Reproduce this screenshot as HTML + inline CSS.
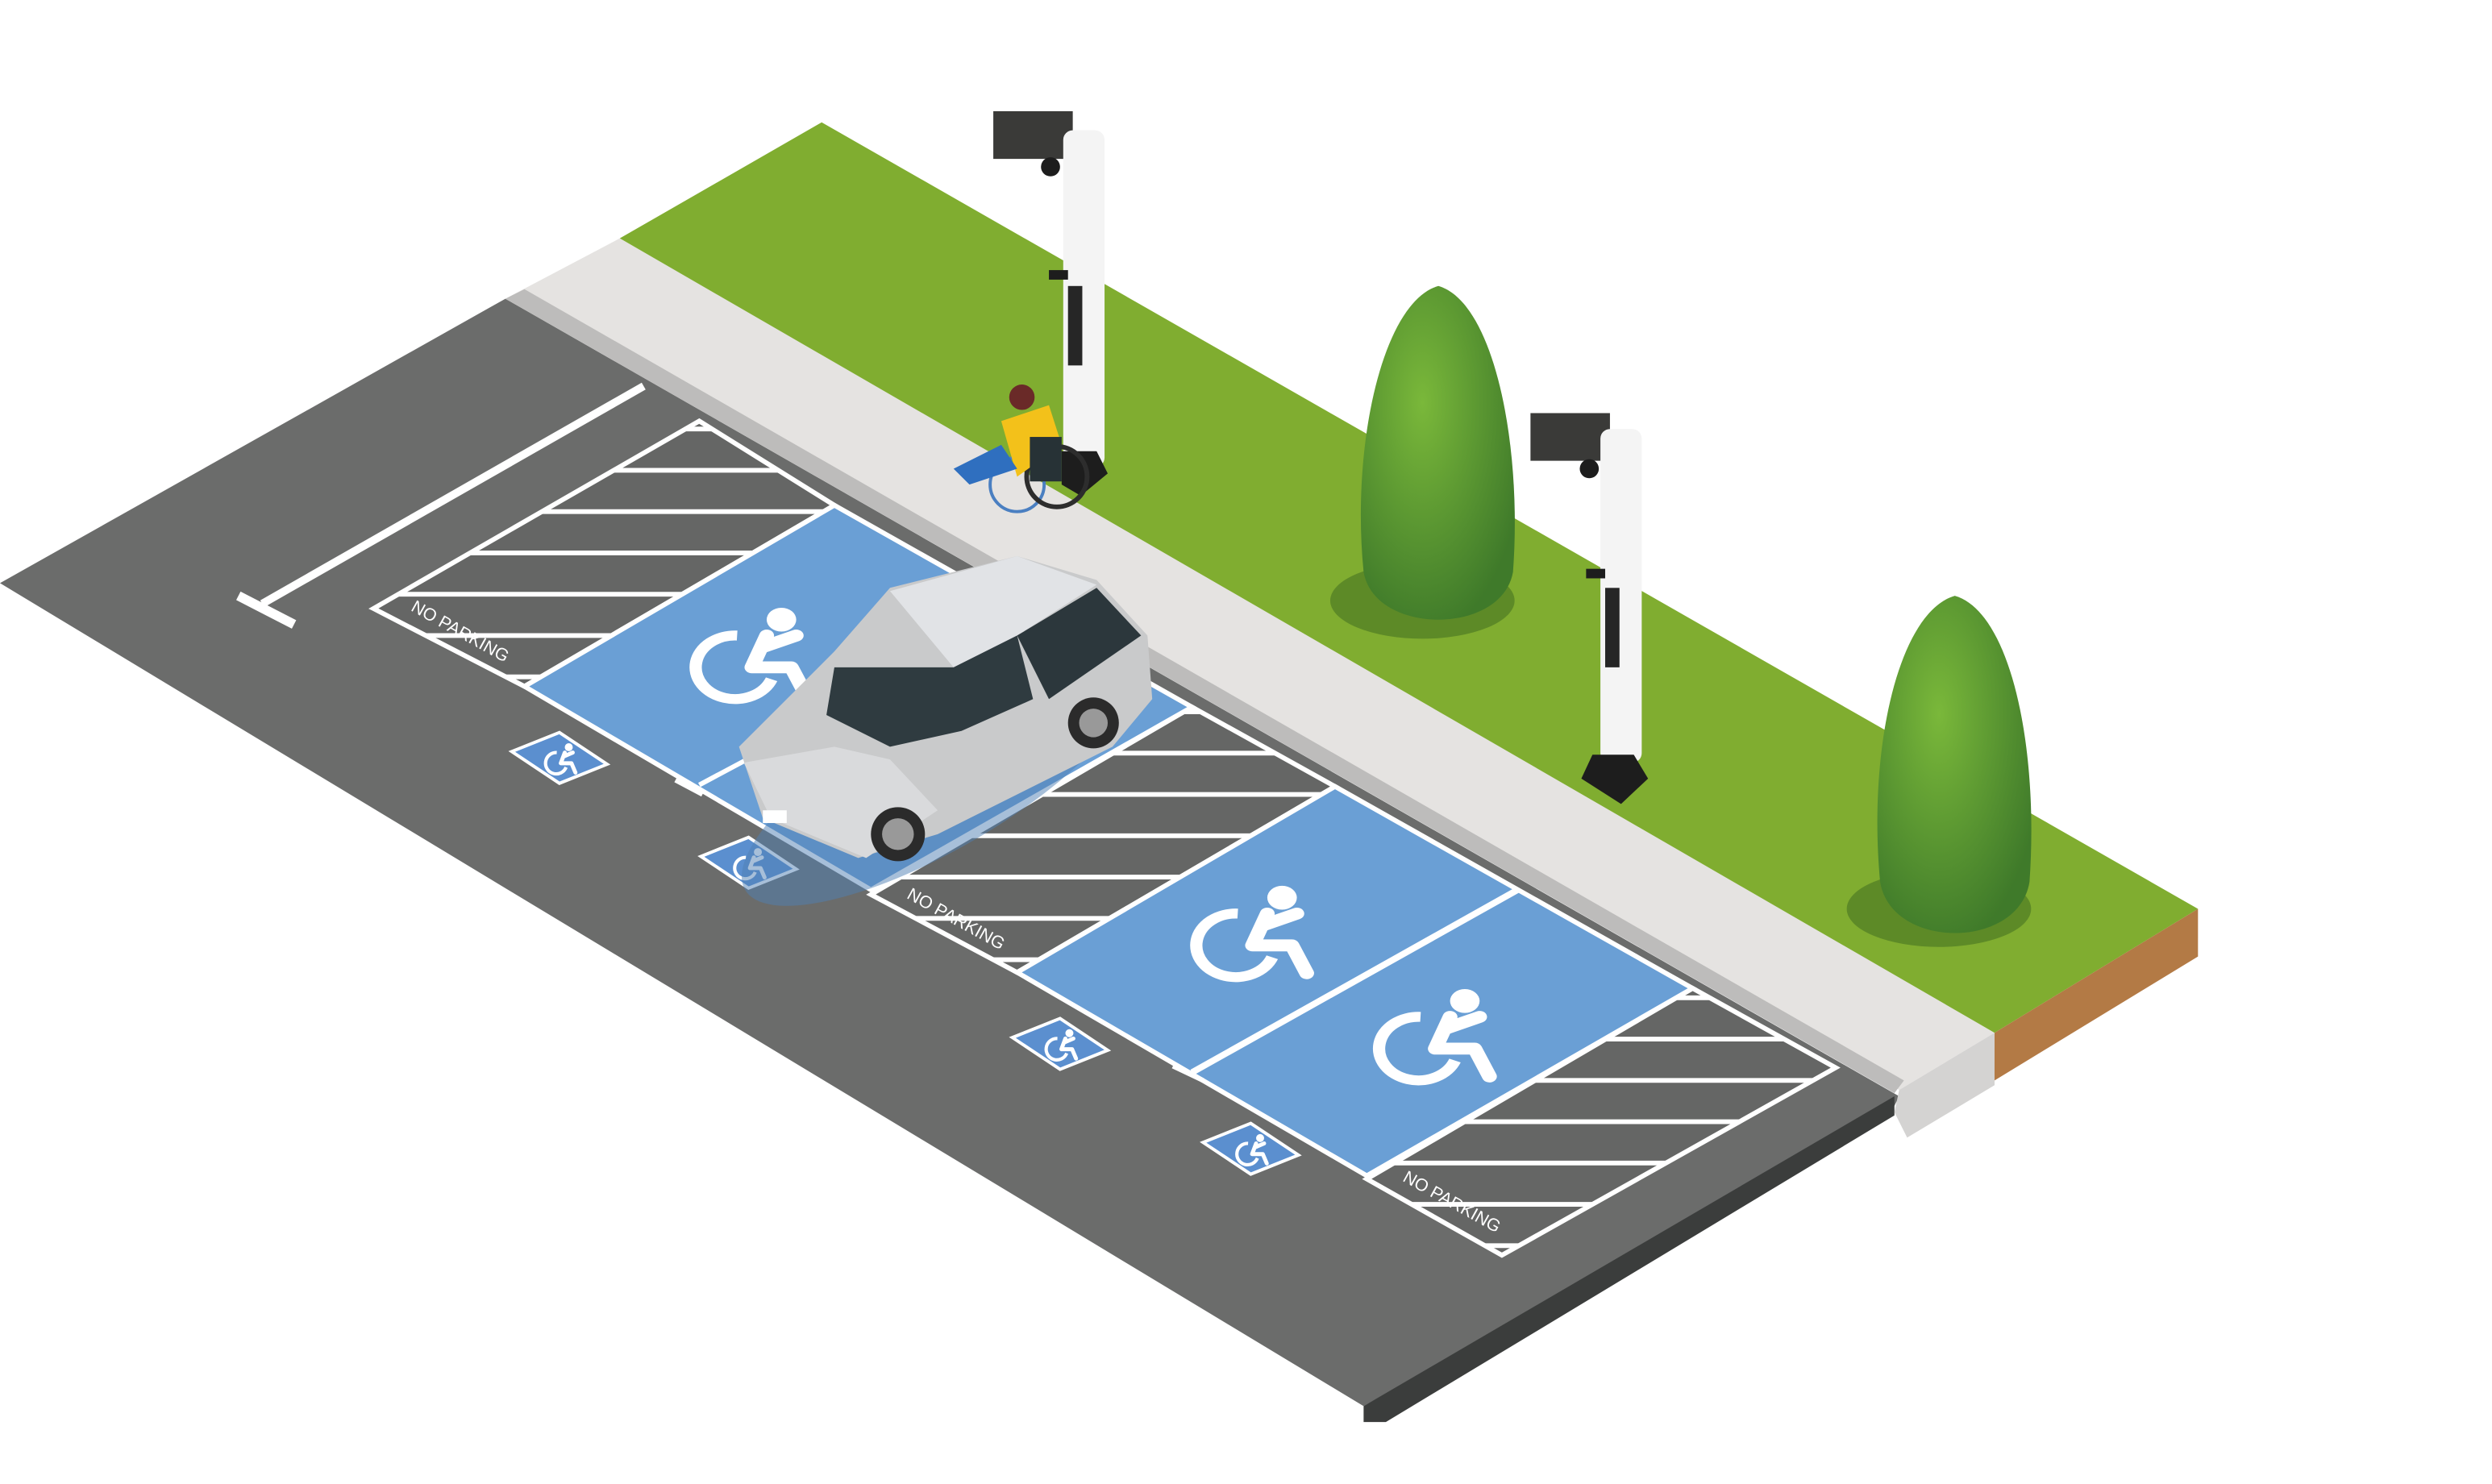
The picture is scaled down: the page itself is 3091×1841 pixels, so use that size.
<!DOCTYPE html>
<html><head><meta charset="utf-8"><style>
html,body{margin:0;padding:0;background:#fff;}
svg{display:block;}
text{font-family:"Liberation Sans",sans-serif;}
</style></head><body>
<svg width="3091" height="1841" viewBox="0 0 1568 934" preserveAspectRatio="none" xmlns="http://www.w3.org/2000/svg">
<defs>
<g id="wc">
 <circle cx="14" cy="-16" r="6" fill="#fff"/>
 <path d="M-4,-8 A16,16 0 1 0 10,14" fill="none" stroke="#fff" stroke-width="5"/>
 <path d="M8,-8 L2,8 L18,8 L24,22 M6,-2 L20,-8" fill="none" stroke="#fff" stroke-width="6" stroke-linecap="round" stroke-linejoin="round"/>
</g>
<g id="sign">
 <polygon points="-30,-4 0,-16 30,4 0,16" fill="#5b8fcf" stroke="#fff" stroke-width="2"/>
 <use href="#wc" transform="scale(0.42)"/>
</g>
<clipPath id="h1"><polygon points="235,383 330,432 525,318 440,265"/></clipPath>
<clipPath id="h2"><polygon points="548,563 640,612 840,495 750,445"/></clipPath>
<clipPath id="h3"><polygon points="860,742 945,790 1155,672 1065,622"/></clipPath>
<g id="stripes" stroke="#fff" stroke-width="3">
 <line x1="0" y1="0" x2="1600" y2="0"/><line x1="0" y1="26" x2="1600" y2="26"/><line x1="0" y1="52" x2="1600" y2="52"/><line x1="0" y1="78" x2="1600" y2="78"/><line x1="0" y1="104" x2="1600" y2="104"/><line x1="0" y1="130" x2="1600" y2="130"/><line x1="0" y1="156" x2="1600" y2="156"/>
</g>
<radialGradient id="tree" cx="0.4" cy="0.35" r="0.7"><stop offset="0" stop-color="#7ab83a"/><stop offset="1" stop-color="#3f7a2a"/></radialGradient>
</defs>

<polygon points="0,367 318,188 1195,690 1190,700 858,885" fill="#6b6c6b"/>
<polygon points="858,885 1192,690 1192,702 872,895 858,895" fill="#3b3d3c"/>
<polygon points="318,188 390,150 1255,650 1195,686" fill="#e5e3e1"/>
<polygon points="318,188 330,182 1198,680 1192,688" fill="#bdbcbb"/>
<polygon points="1195,686 1255,650 1255,683 1200,716 1192,700" fill="#d4d3d2"/>
<polygon points="390,150 517,77 1383,572 1255,650" fill="#80ad30"/>
<polygon points="1255,650 1383,572 1383,602 1255,680" fill="#b37a45"/>

<line x1="405" y1="243" x2="165" y2="380" stroke="#fff" stroke-width="5"/>
<line x1="150" y1="375" x2="185" y2="393" stroke="#fff" stroke-width="6"/>

<g>
<polygon points="235,383 330,432 525,318 440,265" fill="#656665" stroke="#fff" stroke-width="3"/>
<g clip-path="url(#h1)"><use href="#stripes" transform="translate(0,270)"/></g>
<polygon points="548,563 640,612 840,495 750,445" fill="#656665" stroke="#fff" stroke-width="3"/>
<g clip-path="url(#h2)"><use href="#stripes" transform="translate(0,448)"/></g>
<polygon points="860,742 945,790 1155,672 1065,622" fill="#656665" stroke="#fff" stroke-width="3"/>
<g clip-path="url(#h3)"><use href="#stripes" transform="translate(0,628)"/></g>
</g>
<text x="0" y="0" font-size="11" fill="#fff" transform="translate(258,384) rotate(29)">NO PARKING</text>
<text x="0" y="0" font-size="11" fill="#fff" transform="translate(570,565) rotate(29)">NO PARKING</text>
<text x="0" y="0" font-size="11" fill="#fff" transform="translate(882,743) rotate(29)">NO PARKING</text>

<polygon points="330,432 548,560 750,445 525,318" fill="#6a9fd5" stroke="#fff" stroke-width="3"/>
<polygon points="640,612 860,740 1065,622 840,495" fill="#6a9fd5" stroke="#fff" stroke-width="3"/>
<line x1="750" y1="675" x2="955" y2="560" stroke="#fff" stroke-width="4"/>
<line x1="738" y1="671" x2="757" y2="680" stroke="#fff" stroke-width="3"/>
<line x1="440" y1="494" x2="470" y2="478" stroke="#fff" stroke-width="3"/>
<line x1="425" y1="491" x2="442" y2="500" stroke="#fff" stroke-width="3"/>
<use href="#wc" transform="translate(470,410) scale(1.55,1.25)"/>
<use href="#wc" transform="translate(785,585) scale(1.55,1.25)"/>
<use href="#wc" transform="translate(900,650) scale(1.55,1.25)"/>

<use href="#sign" transform="translate(352,477)"/>
<use href="#sign" transform="translate(471,543)"/>
<use href="#sign" transform="translate(667,657)"/>
<use href="#sign" transform="translate(787,723)"/>

<g>
<ellipse cx="590" cy="490" rx="140" ry="45" fill="#4f7fb3" opacity="0.5" transform="rotate(-30 590 490)"/>
<polygon points="465,470 525,410 560,370 640,350 690,365 722,400 725,440 700,470 590,525 540,540 480,515" fill="#c9cacb"/>
<polygon points="560,372 640,350 690,368 640,400 600,420" fill="#e1e3e6"/>
<polygon points="525,420 600,420 640,400 650,440 605,460 560,470 520,450" fill="#2f3b40"/>
<polygon points="640,400 690,370 718,400 660,440" fill="#2c373c"/>
<polygon points="468,480 525,470 560,478 590,510 545,540 485,515" fill="#d9dadc"/>
<rect x="480" y="510" width="15" height="8" fill="#fff"/>
<circle cx="565" cy="525" r="17" fill="#2b2b2b"/><circle cx="565" cy="525" r="10" fill="#999"/>
<circle cx="688" cy="455" r="16" fill="#2b2b2b"/><circle cx="688" cy="455" r="9" fill="#999"/>
</g>

<g>
<rect x="625" y="70" width="50" height="30" fill="#3a3a38"/>
<rect x="669" y="82" width="26" height="212" rx="6" fill="#f4f4f4"/>
<rect x="672" y="180" width="9" height="50" fill="#262626"/>
<circle cx="661" cy="105" r="6" fill="#1d1d1d"/>
<rect x="660" y="170" width="12" height="6" fill="#1d1d1d"/>
<polygon points="668,284 690,284 697,298 680,312 668,305" fill="#1d1d1d"/>
</g>
<g>
<circle cx="640" cy="305" r="17" fill="none" stroke="#4a7fc1" stroke-width="2"/>
<circle cx="665" cy="300" r="19" fill="none" stroke="#2d2d2d" stroke-width="3"/>
<polygon points="630,265 660,255 668,280 640,300" fill="#f3c11a"/>
<polygon points="600,295 630,280 640,295 610,305" fill="#2f6fbf"/>
<circle cx="643" cy="250" r="8" fill="#6a2a28"/>
<rect x="648" y="275" width="20" height="28" fill="#273236"/>
</g>
<g>
<rect x="963" y="260" width="50" height="30" fill="#3a3a38"/>
<rect x="1007" y="270" width="26" height="210" rx="6" fill="#f4f4f4"/>
<rect x="1010" y="370" width="9" height="50" fill="#262626"/>
<circle cx="1000" cy="295" r="6" fill="#1d1d1d"/>
<rect x="998" y="358" width="12" height="6" fill="#1d1d1d"/>
<polygon points="1002,475 1028,475 1037,490 1020,506 995,490" fill="#1d1d1d"/>
</g>
<ellipse cx="895" cy="378" rx="58" ry="24" fill="#4f7a23" opacity="0.7"/>
<path d="M858,360 C850,280 870,190 905,180 C940,190 958,280 952,360 C945,400 865,400 858,360 Z" fill="url(#tree)"/>
<ellipse cx="1220" cy="572" rx="58" ry="24" fill="#4f7a23" opacity="0.7"/>
<path d="M1183,555 C1175,470 1195,385 1230,375 C1265,385 1283,470 1277,555 C1270,598 1190,598 1183,555 Z" fill="url(#tree)"/>
</svg>
</body></html>
